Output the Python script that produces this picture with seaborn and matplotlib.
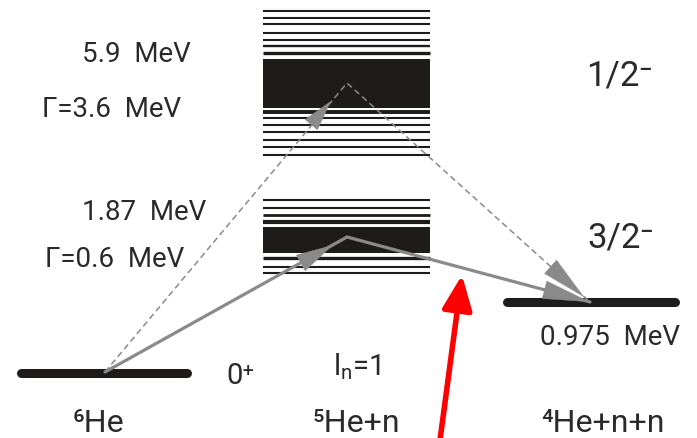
import matplotlib
matplotlib.use("Agg")
import matplotlib.pyplot as plt
import seaborn as sns
import pandas as pd
import numpy as np

sns.set_theme(style="white")
plt.rcParams['font.family'] = ['Roboto', 'DejaVu Sans']
plt.rcParams['mathtext.fontset'] = 'custom'
plt.rcParams['mathtext.rm'] = 'Roboto'

# ---- data (picture coordinates: x px, y px from top) ----
upper_band_lines = [11, 17.5, 24, 32.5, 40, 46, 52.5, 111.5, 118, 125, 132, 139.5, 147, 154.5]
upper_band_widths = [1.5, 1.5, 1.5, 1.5, 1.5, 1.7, 2.4, 2.8, 1.5, 1.5, 1.5, 1.5, 1.5, 1.5]
upper_block = [59, 107.5]
lower_band_lines = [200, 208, 215, 221.7, 258, 267, 273.3]
lower_band_widths = [1.5, 1.5, 2.0, 3.0, 2.4, 1.5, 1.5]
lower_block = [227, 253]
band_x = [263, 430]

levels = pd.DataFrame({
    "name": ["6He", "6He", "4He", "4He"],
    "x": [21, 187, 507, 675],
    "y": [372.5, 372.5, 302, 302],
})

solid_path_x = [105, 347, 590]
solid_path_y = [372, 237, 302]
dashed_path_x = [105, 347, 590]
dashed_path_y = [372, 83, 302]

# (x_left, baseline, text, size)
texts = [
    (82, 62, "5.9  MeV", 20),
    (42, 117, "Γ=3.6  MeV", 20),
    (82, 220, "1.87  MeV", 20),
    (45, 267, "Γ=0.6  MeV", 20),
    (586, 85, "1/2⁻", 25),
    (587, 247, "3/2⁻", 25),
    (226, 384, "0⁺", 21),
    (540, 345, "0.975  MeV", 20),
    (73, 432, "⁶He", 23),
    (313, 432, "⁵He+n", 23),
    (541, 432, "⁴He+n+n", 23),
]

fig = plt.figure(figsize=(6.97, 4.38), dpi=100)
ax = fig.add_axes([0, 0, 1, 1])
ax.set_xlim(0, 697)
ax.set_ylim(438, 0)
ax.axis("off")

ink = "#1e1b1b"
grey = "#8a8a8a"
txt = "#2a2a2a"

# bands
for y, w in zip(upper_band_lines, upper_band_widths):
    ax.hlines(y, band_x[0], band_x[1], color=ink, lw=w)
ax.fill_between(band_x, upper_block[0], upper_block[1], color=ink, lw=0)
for y, w in zip(lower_band_lines, lower_band_widths):
    ax.hlines(y, band_x[0], band_x[1], color=ink, lw=w)
ax.fill_between(band_x, lower_block[0], lower_block[1], color=ink, lw=0)

# levels
sns.lineplot(data=levels, x="x", y="y", units="name", estimator=None,
             color=ink, lw=6.5, solid_capstyle="round", ax=ax, legend=False)

# arrow paths
ax.plot(dashed_path_x, dashed_path_y, color=grey, lw=1.1, ls=(0, (4, 2.5)))
ax.plot(solid_path_x, solid_path_y, color=grey, lw=2.3, solid_joinstyle="miter")


def head(start, tip, length_px, halfwidth_px):
    d = np.array(tip, float) - np.array(start, float)
    d /= np.hypot(*d)
    tail = np.array(tip, float) - d * length_px * 1.02
    hl = length_px * 0.72 / 10
    hw = halfwidth_px * 0.72 / 10
    ax.annotate("", xy=tip, xytext=tuple(tail),
                arrowprops=dict(arrowstyle=f"-|>,head_length={hl},head_width={hw}",
                                mutation_scale=10, color=grey, lw=0.3,
                                shrinkA=0, shrinkB=0))


head((105, 372), (333, 245), 36, 9)
head((347, 237), (590, 302), 46, 9)
head((105, 372), (331, 101), 30, 8)
head((347, 83), (584, 297), 44, 9)

# texts
for x, y, s, fs in texts:
    ax.text(x, y, s, fontsize=fs, color=txt, ha="left", va="baseline")
ax.text(333, 375, r"l$_\mathregular{n}$=1", fontsize=21, color=txt,
        ha="left", va="baseline")

# red arrow
ax.annotate("", xy=(462, 275), xytext=(440, 440),
            arrowprops=dict(arrowstyle="-|>,head_length=1.5,head_width=0.65",
                            mutation_scale=14, color="#ff0000", lw=4,
                            shrinkA=0, shrinkB=0))

fig.savefig("out.png", dpi=100)
